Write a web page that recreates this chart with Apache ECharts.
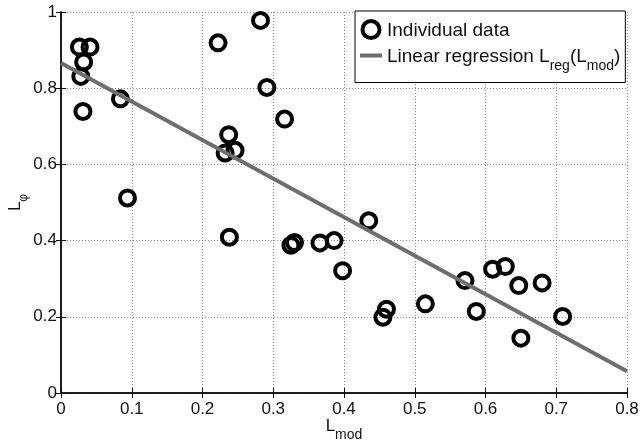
<!DOCTYPE html>
<html>
<head>
<meta charset="utf-8">
<script src="https://cdn.jsdelivr.net/npm/echarts@6/dist/echarts.min.js"></script>
<style>html,body{margin:0;padding:0;background:#fff}#c{width:642px;height:446px}</style>
</head>
<body>
<div id="c"></div>
<script>
const xTicks = [0, 0.1, 0.2, 0.3, 0.4, 0.5, 0.6, 0.7, 0.8];
const yTicks = [0, 0.2, 0.4, 0.6, 0.8, 1];
const lmod = [0.026, 0.041, 0.032, 0.028, 0.031, 0.084, 0.094, 0.222, 0.282, 0.291, 0.316, 0.237, 0.232, 0.246, 0.238, 0.325, 0.330, 0.366, 0.386, 0.398, 0.435, 0.455, 0.460, 0.515, 0.571, 0.587, 0.610, 0.628, 0.647, 0.680, 0.650, 0.709];
const lphi = [0.908, 0.908, 0.869, 0.831, 0.739, 0.772, 0.512, 0.919, 0.978, 0.802, 0.719, 0.678, 0.630, 0.637, 0.409, 0.388, 0.395, 0.394, 0.400, 0.321, 0.452, 0.199, 0.220, 0.234, 0.295, 0.214, 0.325, 0.332, 0.282, 0.289, 0.144, 0.201];
const regX = [0, 0.8];
const regY = [0.866, 0.057];
const names = ['Individual data', 'Linear regression Lreg(Lmod)'];

const font = "'Liberation Sans', Helvetica, Arial, sans-serif";
const ink = '#111';
function richSet(big, small, drop) {
  return {
    n: {fontSize: big, fontFamily: font, color: ink, lineHeight: 22, verticalAlign: 'bottom'},
    s: {fontSize: small, fontFamily: font, color: ink, lineHeight: 22, verticalAlign: 'bottom', padding: [0, 0, -drop, 0]}
  };
}
const chart = echarts.init(document.getElementById('c'));
const gridStyle = {show: true, lineStyle: {color: '#8a8a8a', width: 1, type: [1, 2]}};
const axisLine = {show: true, lineStyle: {color: ink, width: 1.5}};
const axisTick = {show: true, inside: true, length: 5, lineStyle: {color: ink}};
chart.setOption({
  animation: false,
  backgroundColor: '#fff',
  grid: {left: 61, right: 15, top: 12, bottom: 53, containLabel: false, outerBoundsMode: 'none'},
  legend: {
    orient: 'vertical', left: 355, top: 11,
    backgroundColor: '#fff', borderColor: '#000', borderWidth: 1, borderRadius: 0,
    padding: [8, 5, 9, 5], itemGap: 7, itemWidth: 22, itemHeight: 17, symbolKeepAspect: true,
    data: [
      {name: names[0], icon: 'circle', itemStyle: {color: '#fff', borderColor: '#000', borderWidth: 4}},
      {name: names[1], icon: 'path://M0 0H22V4H0Z', itemStyle: {color: '#6e6e6e'}}
    ],
    formatter: function (n) {
      if (n === names[1]) return '{n|Linear regression L}{s|reg}{n|(L}{s|mod}{n|)}';
      return '{n|' + n + '}';
    },
    textStyle: {fontFamily: font, color: ink, rich: richSet(19, 14, 7)}
  },
  xAxis: [{
    type: 'value', min: 0, max: 0.8, interval: 0.1,
    axisLine: axisLine, axisTick: axisTick,
    axisLabel: {fontFamily: font, fontSize: 17, color: ink, margin: 8,
      formatter: v => xTicks.includes(+v.toFixed(2)) ? String(+v.toFixed(2)) : ''},
    splitLine: gridStyle,
    name: '{n|L}{s|mod}', nameLocation: 'middle', nameGap: 20, nameMoveOverlap: false,
    nameTextStyle: {rich: richSet(17, 14, 7)}
  }, {
    type: 'value', position: 'top', min: 0, max: 0.8, interval: 0.1,
    axisLine: axisLine, axisTick: axisTick,
    axisLabel: {show: false}, splitLine: {show: false}
  }],
  yAxis: [{
    type: 'value', min: 0, max: 1, interval: 0.2,
    axisLine: axisLine, axisTick: axisTick,
    axisLabel: {fontFamily: font, fontSize: 17, color: ink, margin: 4,
      formatter: v => yTicks.includes(+v.toFixed(2)) ? String(+v.toFixed(2)) : ''},
    splitLine: gridStyle,
    name: '{n|L}{s|φ}', nameLocation: 'middle', nameGap: 37, nameRotate: 90, nameMoveOverlap: false,
    nameTextStyle: {rich: richSet(17, 12, 6)}
  }, {
    type: 'value', position: 'right', min: 0, max: 1, interval: 0.2,
    axisLine: axisLine, axisTick: axisTick,
    axisLabel: {show: false}, splitLine: {show: false}
  }],
  series: [{
    name: names[0], type: 'scatter', symbol: 'circle', symbolSize: 15,
    itemStyle: {color: 'rgba(0,0,0,0)', borderColor: '#000', borderWidth: 4, opacity: 1},
    data: lmod.map((x, i) => [x, lphi[i]]), z: 3
  }, {
    name: names[1], type: 'line', symbol: 'none', showSymbol: false,
    lineStyle: {color: '#6e6e6e', width: 4}, itemStyle: {color: '#6e6e6e'},
    data: regX.map((x, i) => [x, regY[i]]), z: 4
  }]
});
</script>
</body>
</html>
